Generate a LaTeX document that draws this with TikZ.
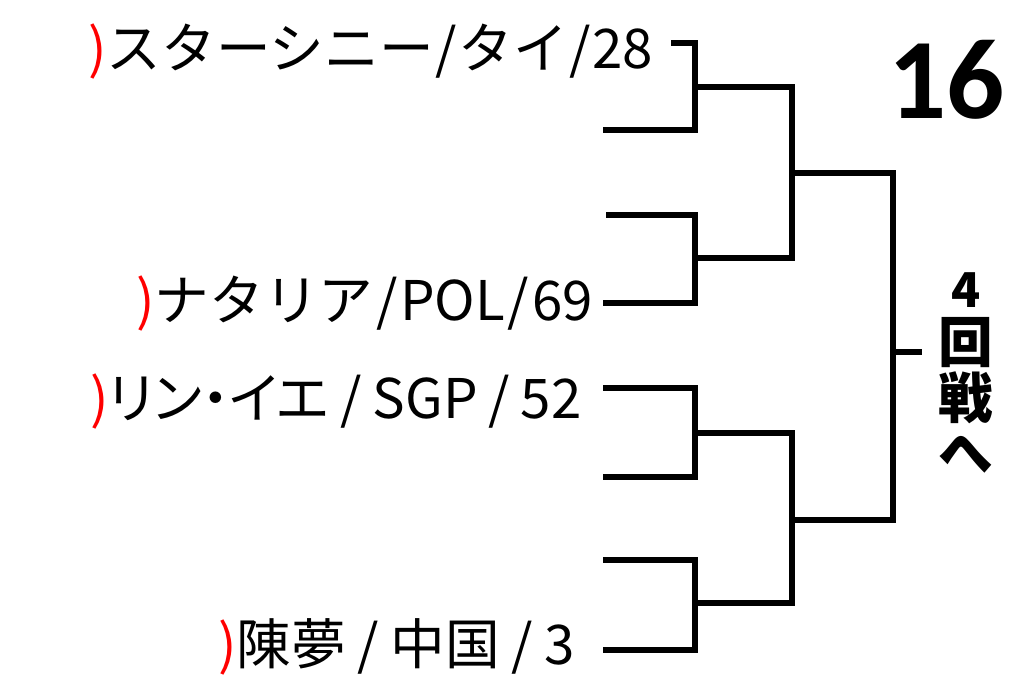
\documentclass[tikz,border=0pt]{standalone}
\usepackage{fontspec}
\setmainfont{Noto Sans CJK JP}
\newfontfamily\pfont{Noto Sans CJK JP}[RawFeature={+palt}]
\newfontfamily\numfont{Carlito}
\usepackage{tikz}

\newcommand{\redparen}{\textcolor{red}{)}}
\newcommand{\sep}[1][0.15em]{\hspace{#1}/\hspace{#1}}

\tikzset{
  bracket/.style={line width=4.2pt, line join=miter},
  player/.style={anchor=base west, inner sep=0pt, font=\fontsize{41}{48}\selectfont},
}

\begin{document}
\begin{tikzpicture}[x=0.75pt,y=0.75pt,yscale=-1,xscale=1]
\fill[white] (0,0) rectangle (1024,694);
\useasboundingbox (0,0) rectangle (1024,694);

% Text Node
\node[player] (p1) at (88,68) {\redparen スターシニー\sep[0.03em]タイ\sep[0.03em]28};
% Text Node
\node[player] (p2) at (136,320) {\redparen ナタリア\sep[0.05em]POL\sep[0.05em]69};
% Text Node
\node[player] (p3) at (90,418) {\redparen{\pfont リン・イエ}\sep[0.2em]SGP\sep[0.2em]52};
% Text Node
\node[player] (p4) at (218,664) {\redparen 陳夢\sep[0.21em]中国\sep[0.21em]3};
% Text Node
\node[anchor=base west, inner sep=0pt, font=\numfont\bfseries\fontsize{86}{86}\selectfont] (round) at (888,118) {16};
% Text Node
\node[align=center, inner sep=0pt, font=\bfseries\fontsize{41}{41.5}\selectfont] (next) at (966,373) {{\fontsize{36}{41.5}\selectfont 4}\\回\\戦\\へ};

% line ends
\coordinate (s1) at (671,42.7);
\coordinate (s2) at (603,130);
\coordinate (s3) at (606,215);
\coordinate (s4) at (603,302.7);
\coordinate (s5) at (603,387.7);
\coordinate (s6) at (603,476.7);
\coordinate (s7) at (603,560);
\coordinate (s8) at (603,650);
% match points
\coordinate (r1) at (695,86.7);
\coordinate (r2) at (695,258);
\coordinate (r3) at (695,433);
\coordinate (r4) at (695,603);
\coordinate (q1) at (792,172.7);
\coordinate (q2) at (792,520);
\coordinate (f) at (893,352);
\coordinate (out) at (922,352);

%Straight Lines
\draw[bracket] (s1) -| (r1) |- (s2);
\draw[bracket] (s3) -| (r2) |- (s4);
\draw[bracket] (s5) -| (r3) |- (s6);
\draw[bracket] (s7) -| (r4) |- (s8);
\draw[bracket] (r1) -| (q1) |- (r2);
\draw[bracket] (r3) -| (q2) |- (r4);
\draw[bracket] (q1) -| (f) |- (q2);
\draw[bracket] (f) -- (out);

\end{tikzpicture}
\end{document}
